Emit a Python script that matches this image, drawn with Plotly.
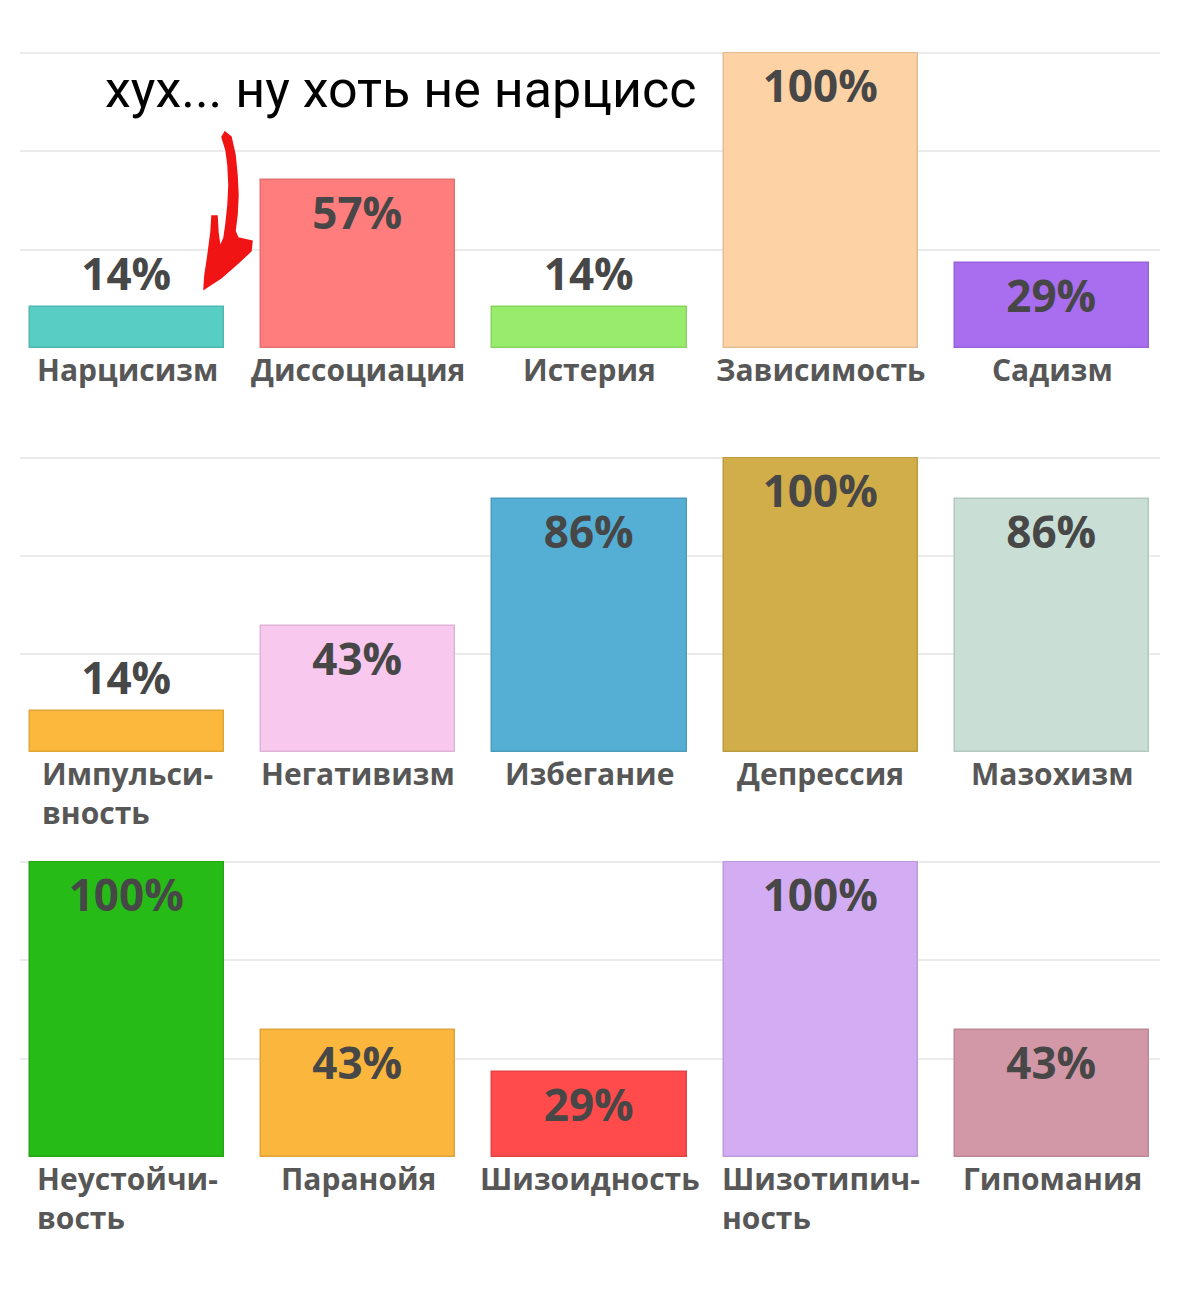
import plotly.graph_objects as go
from plotly.subplots import make_subplots

# page is 1180x1290; the html body adds an 8px margin around the figure
OFF = 8
W, H = 1180 - 2 * OFF, 1290 - 2 * OFF

# ---- data ----
row1_names = ["Нарцисизм", "Диссоциация", "Истерия", "Зависимость", "Садизм"]
row1_labels = ["Нарцисизм", "Диссоциация", "Истерия", "Зависимость", "Садизм"]
row1_values = [14, 57, 14, 100, 29]
row1_colors = ["#57cdc4", "#ff7d7d", "#98ec6c", "#fdd3a5", "#a96ef0"]

row2_names = ["Импульсивность", "Негативизм", "Избегание", "Депрессия", "Мазохизм"]
row2_labels = ["Импульси-<br>вность", "Негативизм", "Избегание", "Депрессия", "Мазохизм"]
row2_values = [14, 43, 86, 100, 86]
row2_colors = ["#fbb83c", "#f9c8ee", "#55aed4", "#d1ae49", "#c9dfd6"]

row3_names = ["Неустойчивость", "Паранойя", "Шизоидность", "Шизотипичность", "Гипомания"]
row3_labels = ["Неустойчи-<br>вость", "Паранойя", "Шизоидность", "Шизотипич-<br>ность", "Гипомания"]
row3_values = [100, 43, 29, 100, 43]
row3_colors = ["#27bb17", "#fbb63e", "#ff4b4b", "#d3adf4", "#d298a7"]

title_text = "хух... ну хоть не нарцисс"

rows = [
    (row1_names, row1_labels, row1_values, row1_colors),
    (row2_names, row2_labels, row2_values, row2_colors),
    (row3_names, row3_labels, row3_values, row3_colors),
]

# page-pixel -> paper helpers (layout only)
def px_x(x):
    return (x - OFF) / W

def px_y(y):
    return 1 - (y - OFF) / H

def darker(hexcol, f=0.9):
    h = hexcol.lstrip("#")
    r, g, b = (int(h[i:i + 2], 16) for i in (0, 2, 4))
    return "rgb(%d,%d,%d)" % (r * f, g * f, b * f)

# row plot areas in page pixels: (top, bottom)
row_px = [(53, 348), (458, 752), (862, 1157)]

fig = make_subplots(rows=3, cols=1)

for i, (names, labels, values, colors) in enumerate(rows):
    r = i + 1
    positions = ["outside" if v < 20 else "inside" for v in values]
    fig.add_trace(go.Bar(
        x=names,
        y=values,
        width=0.84,
        text=[f"{v}%" for v in values],
        textposition=positions,
        insidetextanchor="end",
        textangle=0,
        cliponaxis=False,
        textfont=dict(family="Open Sans", size=44, color="#474747", weight="bold"),
        marker=dict(color=colors, line=dict(color=[darker(c) for c in colors], width=1.5)),
        showlegend=False,
        hoverinfo="skip",
    ), row=r, col=1)

    top, bot = row_px[i]
    xa = "xaxis" if r == 1 else f"xaxis{r}"
    ya = "yaxis" if r == 1 else f"yaxis{r}"
    fig.layout[xa].update(
        domain=[px_x(20), px_x(1160)],
        range=[-0.463, 4.467],
        showticklabels=False, showgrid=False, zeroline=False, showline=False,
    )
    fig.layout[ya].update(
        domain=[px_y(bot), px_y(top - 1)],
        range=[0, 100.4],
        tickvals=[0, 100 / 3, 200 / 3, 100],
        showticklabels=False, showgrid=True, gridcolor="#ebebeb", gridwidth=2,
        zeroline=False, showline=False,
    )

    xref = "x" if r == 1 else f"x{r}"
    yref = "y" if r == 1 else f"y{r}"
    for n, lab in zip(names, labels):
        fig.add_annotation(
            x=n, y=0, xref=xref, yref=yref,
            text=lab, showarrow=False, align="left",
            xanchor="center", yanchor="top", yshift=1,
            font=dict(family="Open Sans", size=30, color="#575757", weight="bold"),
        )

# handwritten caption
fig.add_annotation(
    x=px_x(400), y=px_y(89), xref="paper", yref="paper",
    text=title_text, showarrow=False, xanchor="center", yanchor="middle",
    font=dict(family="Roboto", size=52, color="#000000"),
)

# red hand-drawn arrow
arrow_pts = [(225, 132), (231, 137), (235, 155), (237, 175), (238, 195), (237, 215),
             (235, 231), (238, 238), (252, 241), (251, 251), (237, 264), (221, 278),
             (204, 289), (205, 275), (208, 255), (211, 232), (212, 216), (217, 216),
             (218, 233), (220, 247), (224, 238), (226, 224), (228, 205), (229, 185),
             (228, 165), (226, 150), (222, 137)]
path = "M " + " L ".join(f"{px_x(x):.5f},{px_y(y):.5f}" for x, y in arrow_pts) + " Z"
fig.add_shape(type="path", path=path, xref="paper", yref="paper",
              fillcolor="#f01414", line=dict(color="#f01414", width=1.5))

fig.update_layout(
    width=W, height=H,
    margin=dict(l=0, r=0, t=0, b=0),
    paper_bgcolor="white", plot_bgcolor="white",
    bargap=0,
)

fig.write_html("out.html")
